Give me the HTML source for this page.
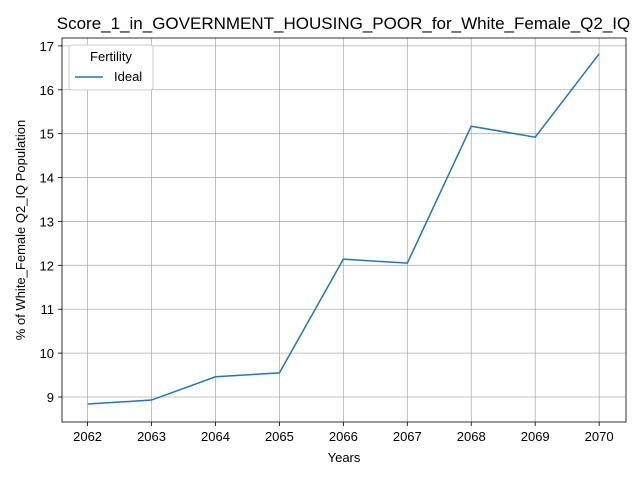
<!DOCTYPE html>
<html><head><meta charset="utf-8"><style>
body{margin:0;background:#fff;}
svg{display:block;font-family:"Liberation Sans","DejaVu Sans",sans-serif;}
</style></head><body>
<svg id="chart" width="640" height="480">
<rect width="640" height="480" fill="#fff"/>
<text x="343.5" y="29" font-size="17" text-anchor="middle">Score_1_in_GOVERNMENT_HOUSING_POOR_for_White_Female_Q2_IQ</text>
<g id="grid"></g><g id="ticks"></g>
<path id="line" fill="none" stroke="#1f77b4" stroke-width="1.5"/>
<rect x="62" y="38" width="564" height="384" fill="none" stroke="#000" stroke-width="0.8"/>
<text x="344" y="462" font-size="13" text-anchor="middle">Years</text>
<text transform="translate(25,230) rotate(-90)" font-size="13" text-anchor="middle">% of White_Female Q2_IQ Population</text>
<g>
<rect x="69" y="45" width="84" height="45" rx="3" fill="#fff" stroke="#ccc"/>
<text x="111" y="61" font-size="13" text-anchor="middle">Fertility</text>
<line x1="75" y1="77" x2="103" y2="77" stroke="#1f77b4" stroke-width="1.5"/>
<text x="114" y="81" font-size="13">Ideal</text>
</g>
</svg>
<script>
const years=[2062,2063,2064,2065,2066,2067,2068,2069,2070];
const values=[8.84,8.93,9.46,9.55,12.14,12.05,15.17,14.92,16.82];
const yTicks=[9,10,11,12,13,14,15,16,17];
const L=62,R=626,T=38,B=422;
const xMin=2061.6,xMax=2070.42,yMin=8.43,yMax=17.18;
const sx=v=>L+(v-xMin)/(xMax-xMin)*(R-L);
const sy=v=>B-(v-yMin)/(yMax-yMin)*(B-T);
const NS="http://www.w3.org/2000/svg";
const grid=document.getElementById('grid'),ticks=document.getElementById('ticks');
function mk(tag,attrs,parent){const e=document.createElementNS(NS,tag);for(const k in attrs)e.setAttribute(k,attrs[k]);parent.appendChild(e);return e;}
years.forEach(y=>{const x=sx(y);
const g=mk('line',{x1:x,x2:x,y1:T,y2:B,stroke:'#b0b0b0','stroke-width':0.8},grid);


mk('line',{x1:x,x2:x,y1:B,y2:B+4,stroke:'#000','stroke-width':0.8},ticks);
const t=mk('text',{x:x,y:B+19,'font-size':13,'text-anchor':'middle'},ticks);t.textContent=y;

});
yTicks.forEach(v=>{const y=sy(v);
const g=mk('line',{x1:L,x2:R,y1:y,y2:y,stroke:'#b0b0b0','stroke-width':0.8},grid);


mk('line',{x1:L-4,x2:L,y1:y,y2:y,stroke:'#000','stroke-width':0.8},ticks);
const t=mk('text',{x:L-8,y:y+5,'font-size':13,'text-anchor':'end'},ticks);t.textContent=v;

});
document.getElementById('line').setAttribute('d',years.map((y,i)=>(i?'L':'M')+sx(y)+','+sy(values[i])).join(' '));
</script>
</body></html>
